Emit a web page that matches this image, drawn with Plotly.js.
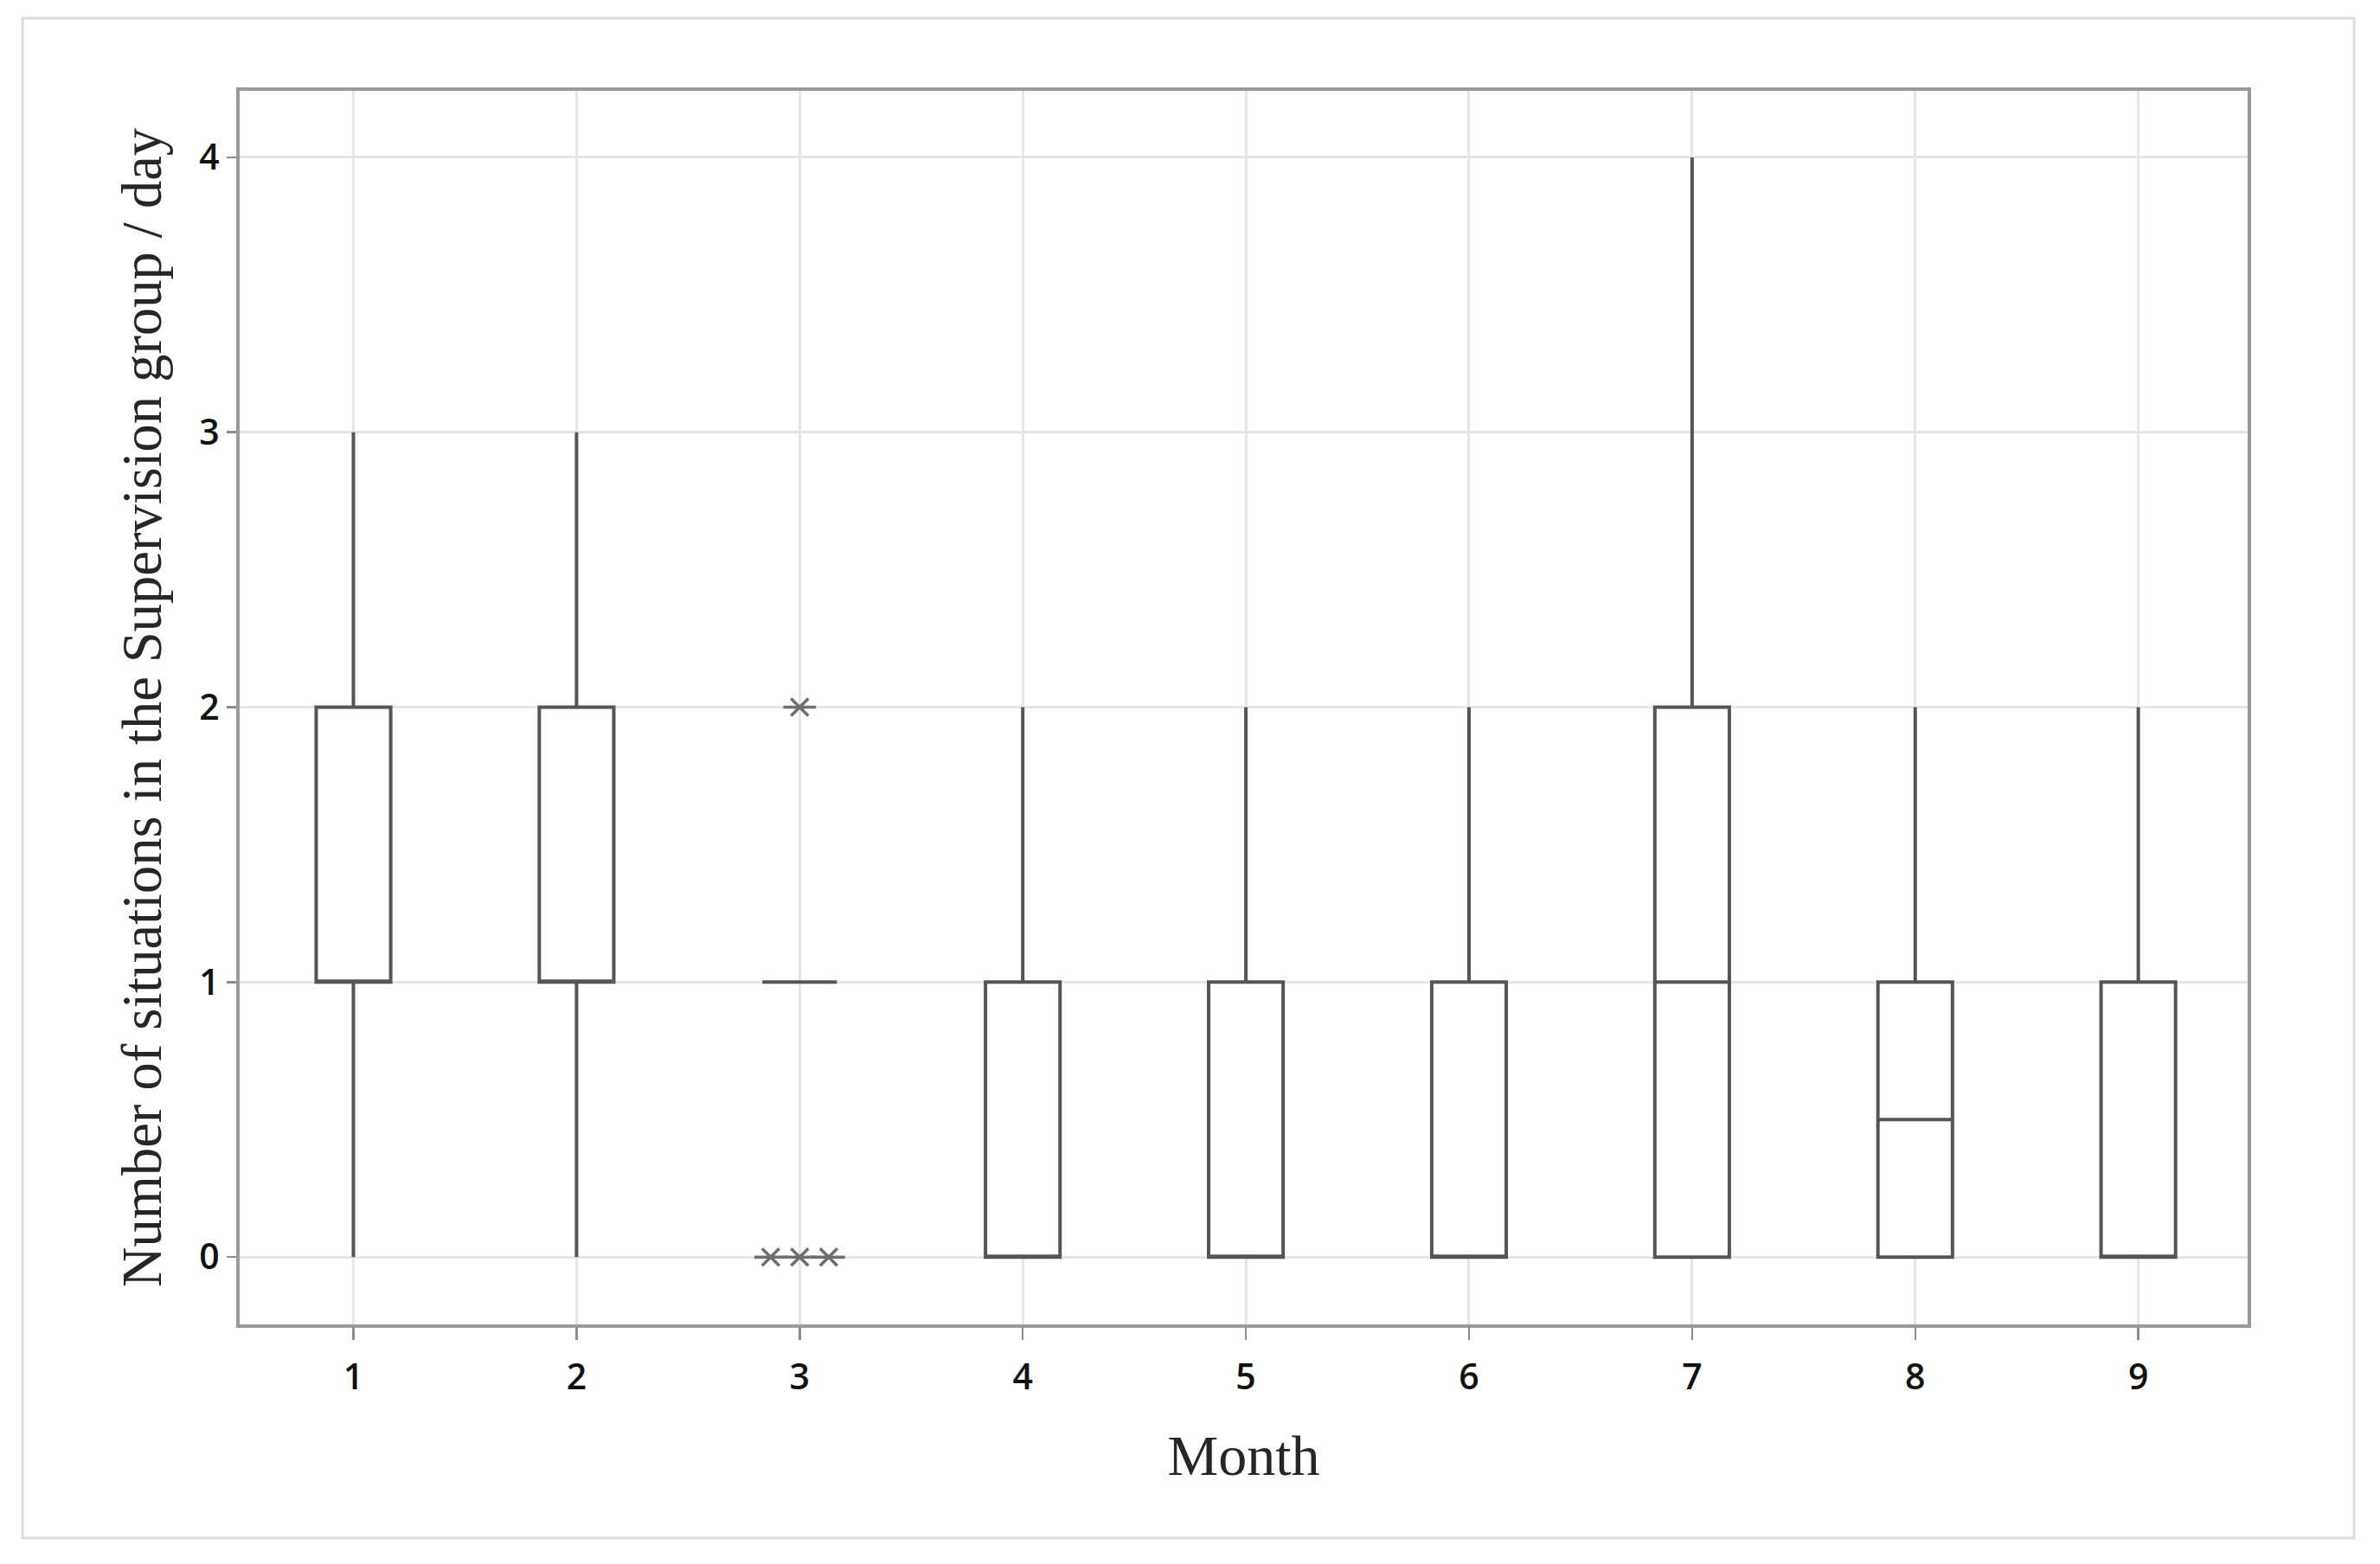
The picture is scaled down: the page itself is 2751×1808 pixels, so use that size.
<!DOCTYPE html>
<html>
<head>
<meta charset="utf-8">
<script src="https://cdn.plot.ly/plotly-3.0.1.min.js"></script>
<style>
  html, body { margin: 0; padding: 0; background: #ffffff; }
  #chart { width: 2751px; height: 1808px; }
</style>
</head>
<body>
<div id="chart"></div>
<script>
// ---- data ----
const months      = [1, 2, 3, 4, 5, 6, 7, 8, 9];
const tickLabels  = ['1', '2', '3', '4', '5', '6', '7', '8', '9'];
const lowerFence  = [0, 0, 1, 0, 0, 0, 0, 0, 0];
const q1          = [1, 1, 1, 0, 0, 0, 0, 0, 0];
const median      = [1, 1, 1, 0, 0, 0, 1, 0.5, 0];
const q3          = [2, 2, 1, 1, 1, 1, 2, 1, 1];
const upperFence  = [3, 3, 1, 2, 2, 2, 4, 2, 2];
// outliers (month 3); x positions as drawn (side-by-side for tied values)
const outlierX    = [3, 2.87, 3, 3.13];
const outlierY    = [2, 0, 0, 0];

const boxColor = '#555555';
const starColor = '#6e6e6e';

const traces = [
  {
    type: 'box',
    x: months,
    lowerfence: lowerFence,
    q1: q1,
    median: median,
    q3: q3,
    upperfence: upperFence,
    width: 0.334,
    whiskerwidth: 0,
    boxpoints: false,
    fillcolor: '#ffffff',
    line: { color: boxColor, width: 4 },
    showlegend: false,
    hoverinfo: 'y'
  },
  {
    type: 'scatter', mode: 'markers',
    x: outlierX, y: outlierY,
    marker: { symbol: 'x-thin-open', size: 20, color: starColor, line: { color: starColor, width: 3.5 } },
    showlegend: false, hoverinfo: 'y'
  },
  {
    type: 'scatter', mode: 'markers',
    x: outlierX, y: outlierY,
    marker: { symbol: 'line-ew-open', size: 27, color: starColor, line: { color: starColor, width: 3.5 } },
    showlegend: false, hoverinfo: 'skip'
  }
];

const tickFont = { family: 'Open Sans, Noto Sans, sans-serif', size: 41, color: '#111111', weight: 600 };
const xTitleFont = { family: 'Liberation Serif, serif', size: 66, color: '#262626' };
const yTitleFont = { family: 'Liberation Serif, serif', size: 64.5, color: '#262626' };

const layout = {
  width: 2751,
  height: 1808,
  paper_bgcolor: '#ffffff',
  plot_bgcolor: '#ffffff',
  margin: { l: 277, r: 153, t: 105, b: 277, pad: 0 },
  showlegend: false,
  xaxis: {
    range: [0.49, 9.49],
    tickmode: 'array',
    tickvals: months,
    ticktext: tickLabels,
    tickfont: tickFont,
    ticks: 'outside',
    ticklen: 14,
    tickwidth: 2.5,
    tickcolor: '#8c8c8c',
    ticklabelstandoff: 8,
    showgrid: true,
    gridcolor: '#e6e6e6',
    gridwidth: 3,
    zeroline: false,
    showline: true,
    mirror: true,
    linecolor: '#9a9a9a',
    linewidth: 4,
    automargin: false,
    title: { text: 'Month', font: xTitleFont, standoff: 43 }
  },
  yaxis: {
    range: [-0.245, 4.242],
    tickmode: 'array',
    tickvals: [0, 1, 2, 3, 4],
    ticktext: ['0', '1', '2', '3', '4'],
    tickfont: tickFont,
    ticks: 'outside',
    ticklen: 11,
    tickwidth: 2.5,
    tickcolor: '#8c8c8c',
    showgrid: true,
    gridcolor: '#e6e6e6',
    gridwidth: 3,
    zeroline: false,
    showline: true,
    mirror: true,
    linecolor: '#9a9a9a',
    linewidth: 4,
    automargin: false,
    title: { text: 'Number of situations in the Supervision group / day', font: yTitleFont, standoff: 24 }
  },
  shapes: [
    {
      type: 'rect', xref: 'paper', yref: 'paper',
      x0: -0.1081, x1: 1.0530, y0: -0.1732, y1: 1.0589,
      line: { color: '#dcdcdc', width: 3 },
      fillcolor: 'rgba(0,0,0,0)',
      layer: 'below'
    }
  ]
};

Plotly.newPlot('chart', traces, layout, { displayModeBar: false, staticPlot: true });
</script>
</body>
</html>
